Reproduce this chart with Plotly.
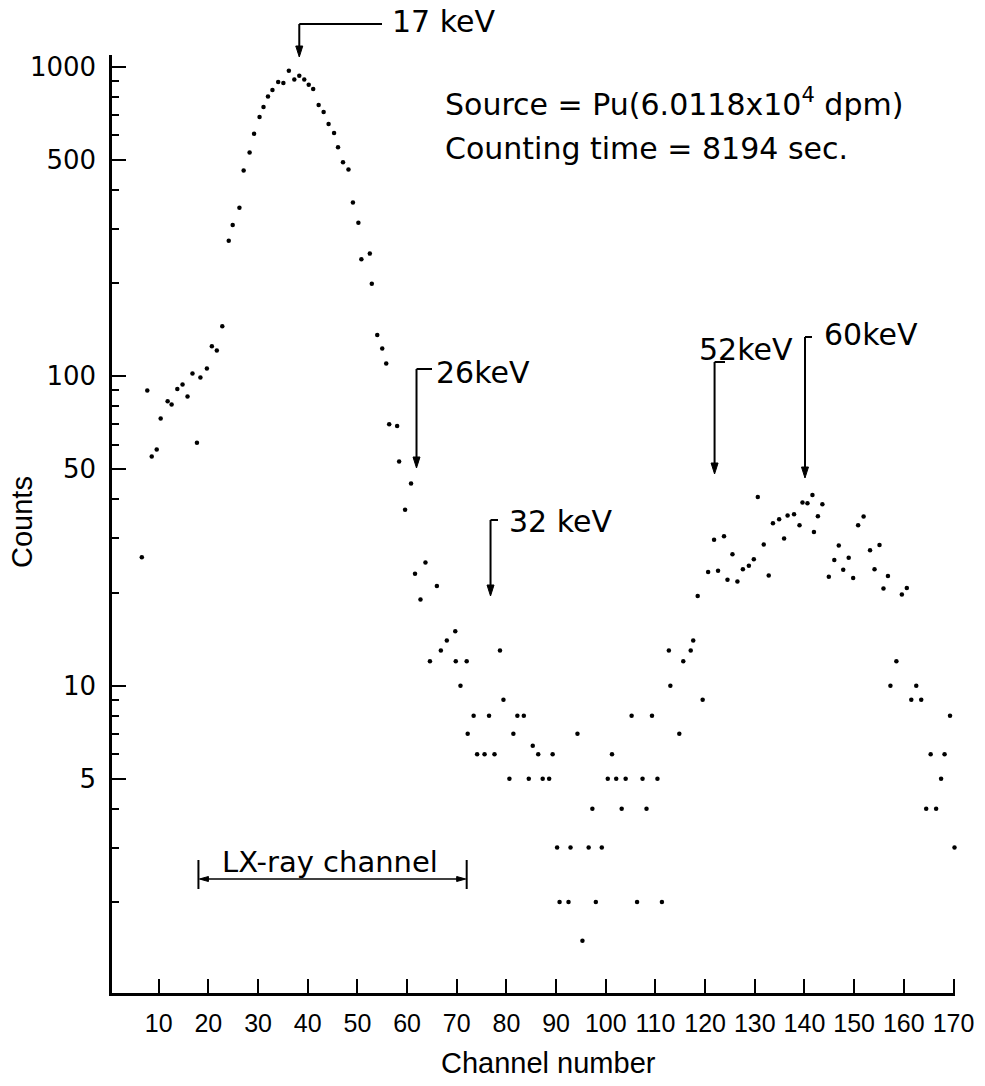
import plotly.graph_objects as go

# ---- data (channel, counts) ----
channels = [6.6, 7.7, 8.6, 9.6, 10.4, 11.8, 12.6, 13.75, 14.8, 15.8, 16.8, 17.7, 18.4, 19.7,
            20.7, 21.7, 22.8, 24.1, 24.9, 26.25, 27.1, 28.3, 29.2, 30.3, 31.1, 32.0, 32.9,
            34.05, 35.1, 36.2, 37.3, 38.3, 39.3, 40.2, 41.1, 42.2, 43.2, 44.2, 45.3, 46.1,
            47.1, 48.2, 49.1, 50.2, 50.8, 52.5, 52.9, 54.0, 55.0, 55.8, 56.4, 58.0, 58.4,
            59.6, 60.8, 61.6, 62.7, 63.7, 64.6, 66.0, 66.8, 68.0, 69.7, 69.8, 70.75, 72.0,
            72.2, 73.4, 74.1, 75.6, 76.5, 77.6, 78.7, 79.4, 80.6, 81.4, 82.2, 83.5, 84.5,
            85.3, 86.4, 87.3, 88.6, 89.3, 90.2, 90.7, 92.5, 92.9, 94.3, 95.3, 96.55, 97.3,
            98.0, 99.2, 100.4, 101.25, 102.1, 103.2, 104.0, 105.2, 106.3, 107.4, 108.2,
            109.3, 110.4, 111.3, 112.7, 113.0, 114.8, 115.6, 117.1, 117.6, 118.5, 119.5,
            120.6, 121.8, 122.6, 123.8, 124.5, 125.5, 126.5, 127.6, 128.8, 129.8, 130.6,
            131.8, 132.8, 133.65, 134.9, 135.9, 136.6, 137.9, 139.0, 139.6, 140.6, 141.6,
            141.9, 142.7, 143.6, 144.9, 146.0, 146.9, 147.8, 148.9, 149.8, 150.8, 151.9,
            153.2, 154.1, 155.1, 155.9, 156.8, 157.3, 158.5, 159.6, 160.6, 161.5, 162.5,
            163.5, 164.5, 165.4, 166.5, 167.5, 168.2, 169.3, 170.2]
counts = [26, 90, 55, 58, 73, 83, 81, 91, 94, 86, 102, 61, 99, 106,
          125, 121, 145, 274, 308, 350, 462, 528, 608, 688, 741, 802, 841,
          893, 886, 971, 910, 935, 910, 875, 847, 753, 714, 653, 611, 549,
          491, 466, 364, 313, 239, 249, 199, 136, 123, 110, 70, 69, 53,
          37, 45, 23, 19, 25, 12, 21, 13, 14, 15, 12, 10, 12,
          7, 8, 6, 6, 8, 6, 13, 9, 5, 7, 8, 8, 5,
          6.4, 6, 5, 5, 6, 3, 2, 2, 3, 7, 1.5, 3, 4,
          2, 3, 5, 6, 5, 4, 5, 8, 2, 5, 4,
          8, 5, 2, 13, 10, 7, 12, 13, 14, 19.5, 9,
          23.3, 29.6, 23.5, 30.4, 22.0, 26.6, 21.7, 23.8, 24.4, 25.6, 40.7,
          28.6, 22.7, 33.5, 34.5, 29.9, 35.5, 35.8, 33.0, 39.1, 38.9, 41.3,
          31.4, 35.3, 38.6, 22.5, 25.5, 28.4, 23.7, 25.9, 22.3, 33.0, 35.2,
          27.4, 23.8, 28.5, 20.6, 22.6, 10, 12, 19.7, 20.7, 9, 10,
          9, 4, 6, 4, 5, 6, 8, 3]

x_ticks = [10, 20, 30, 40, 50, 60, 70, 80, 90, 100, 110, 120, 130, 140, 150, 160, 170]
y_ticks = [5, 10, 50, 100, 500, 1000]
y_minor = [2, 3, 4, 6, 7, 8, 9, 20, 30, 40, 60, 70, 80, 90, 200, 300, 400, 600, 700, 800, 900]

# peak markers: label, channel
peak_labels = ["17 keV", "26keV", "32 keV", "52keV", "60keV"]
peak_channels = [38.3, 61.9, 76.8, 121.9, 140.1]
lx_range = [18, 72]

W, H = 985, 1086
ML, MR, MT, MB = 112, 30, 55, 93
PW, PH = W - ML - MR, H - MT - MB
XR = [0.6, 170.3]

def py(ypx):
    return (H - MB - ypx) / PH

def pxp(xpx):
    return (xpx - ML) / PW

def ch2px(ch):
    return ML + (ch - XR[0]) / (XR[1] - XR[0]) * PW

FONT = "DejaVu Sans"
TICKF = "Liberation Sans"

fig = go.Figure()
fig.add_trace(go.Scatter(x=channels, y=counts, mode="markers",
                         marker=dict(size=4.5, color="black"),
                         showlegend=False, cliponaxis=False))

fig.update_layout(
    width=W, height=H,
    margin=dict(l=ML, r=MR, t=MT, b=MB),
    paper_bgcolor="white", plot_bgcolor="white",
    font=dict(family=FONT, color="black"),
    xaxis=dict(range=XR, showline=True, linecolor="black", linewidth=2.5,
               ticks="inside", ticklen=14, tickwidth=2, tickcolor="black",
               tickmode="array", tickvals=x_ticks, ticktext=[str(v) for v in x_ticks],
               tickangle=0,
               tickfont=dict(family=TICKF, size=25, color="black"),
               ticklabelstandoff=6,
               showgrid=False, zeroline=False),
    yaxis=dict(type="log", range=[0.007, 3.038], showline=True, linecolor="black", linewidth=2.5,
               ticks="inside", ticklen=14, tickwidth=2, tickcolor="black",
               tickmode="array", tickvals=y_ticks, ticktext=[str(v) for v in y_ticks],
               tickfont=dict(family=FONT, size=26, color="black"),
               ticklabelstandoff=8,
               minor=dict(ticks="inside", ticklen=7, tickwidth=2, tickcolor="black",
                          tickmode="array", tickvals=y_minor, showgrid=False),
               showgrid=False, zeroline=False),
)

ann = []
shapes = []

def line_px(x0, y0, x1, y1, w=2):
    shapes.append(dict(type="line", xref="paper", yref="paper",
                       x0=pxp(x0), y0=py(y0), x1=pxp(x1), y1=py(y1),
                       line=dict(color="black", width=w)))

def head_px(tx, ty, direction, length=11, half=3.5):
    # filled arrowhead with tip at (tx, ty) pixels; direction: 'down', 'left', 'right'
    if direction == "down":
        pts = [(tx, ty), (tx - half, ty - length), (tx + half, ty - length)]
    elif direction == "left":
        pts = [(tx, ty), (tx + length, ty - half), (tx + length, ty + half)]
    else:
        pts = [(tx, ty), (tx - length, ty - half), (tx - length, ty + half)]
    path = "M {} {} L {} {} L {} {} Z".format(*[v for p in pts for v in (pxp(p[0]), py(p[1]))])
    shapes.append(dict(type="path", xref="paper", yref="paper", path=path,
                       fillcolor="black", line=dict(color="black", width=1)))

# axis titles
ann.append(dict(text="Channel number", x=pxp(548), y=py(1063), xref="paper", yref="paper",
                showarrow=False, font=dict(family=TICKF, size=29), xanchor="center", yanchor="middle"))
ann.append(dict(text="Counts", x=pxp(22), y=py(522), xref="paper", yref="paper", textangle=-90,
                showarrow=False, font=dict(family=TICKF, size=29), xanchor="center", yanchor="middle"))

# info text
ann.append(dict(text="Source = Pu(6.0118x10<sup>4</sup> dpm)", x=pxp(443), y=py(103),
                xref="paper", yref="paper", showarrow=False, xanchor="left", yanchor="middle",
                font=dict(family=FONT, size=30)))
ann.append(dict(text="Counting time = 8194 sec.", x=pxp(443), y=py(148),
                xref="paper", yref="paper", showarrow=False, xanchor="left", yanchor="middle",
                font=dict(family=FONT, size=30)))

# peak arrows: (top y px, tip y px, horizontal end px, text x px, text y px)
geo = [
    (24, 57, 382, 390, 21),
    (369, 468, 432, 434, 372),
    (520, 596, 498, 507, 521),
    (362, 474, 725, 697, 349),
    (337, 478, 812, 822, 334),
]
for lab, ch, (top, tip, hend, tx, ty) in zip(peak_labels, peak_channels, geo):
    xpix = ch2px(ch)
    line_px(xpix, top, xpix, tip - 6)
    head_px(xpix, tip, "down")
    line_px(xpix, top, hend, top)
    ann.append(dict(text=lab, x=pxp(tx), y=py(ty), xref="paper", yref="paper", showarrow=False,
                    xanchor="left", yanchor="middle", font=dict(family=FONT, size=30)))

# LX-ray channel bracket
xl, xr = ch2px(lx_range[0]), ch2px(lx_range[1])
line_px(xl + 3, 879, xr - 3, 879, w=1.5)
head_px(xl + 1, 879, "left", length=9, half=2.5)
head_px(xr - 1, 879, "right", length=9, half=2.5)
for xb in (xl, xr):
    line_px(xb, 860, xb, 889)
ann.append(dict(text="LX-ray channel", x=pxp(330), y=py(862),
                xref="paper", yref="paper", showarrow=False, xanchor="center", yanchor="middle",
                font=dict(family=FONT, size=29)))

fig.update_layout(annotations=ann, shapes=shapes)
fig.write_html("out.html")
